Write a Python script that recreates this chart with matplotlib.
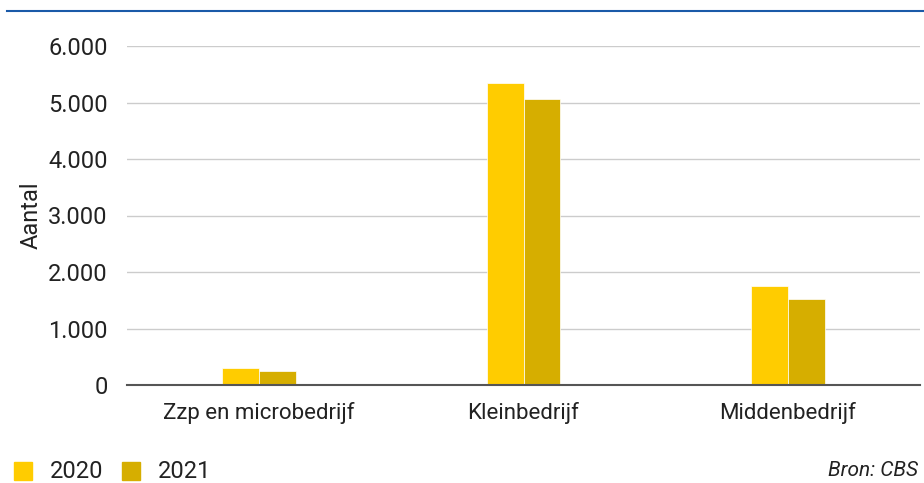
import numpy as np
import matplotlib.pyplot as plt
from matplotlib.lines import Line2D
from matplotlib.patches import Rectangle

plt.rcParams['font.family'] = ['Roboto', 'DejaVu Sans']

categories = ["Zzp en microbedrijf", "Kleinbedrijf", "Middenbedrijf"]
years = ["2020", "2021"]
values_2020 = [300, 5350, 1755]
values_2021 = [250, 5060, 1525]
colors = ["#FFCC00", "#D6AE00"]
yticks = [0, 1000, 2000, 3000, 4000, 5000, 6000]
ytick_labels = ["0", "1.000", "2.000", "3.000", "4.000", "5.000", "6.000"]

fig = plt.figure(figsize=(9.24, 4.83), dpi=100)
ax = fig.add_axes([127 / 924, 1 - 385 / 483, 793 / 924, (385 - 46) / 483])

x = np.arange(len(categories))
w = 0.139
ax.bar(x - w / 2, values_2020, w, color=colors[0], edgecolor="white", linewidth=0.5, zorder=3)
ax.bar(x + w / 2, values_2021, w, color=colors[1], edgecolor="white", linewidth=0.5, zorder=3)

ax.set_xlim(-0.5, 2.5)
ax.set_ylim(0, 6000)
ax.set_yticks(yticks)
ax.set_yticklabels(ytick_labels)
ax.set_xticks(x)
ax.set_xticklabels(categories)
ax.grid(axis="y", color="#cccccc", linewidth=1, zorder=0)
for s in ["top", "right", "left"]:
    ax.spines[s].set_visible(False)
ax.spines["bottom"].set_color("#555555")
ax.spines["bottom"].set_linewidth(1.5)
ax.spines["bottom"].set_zorder(4)
ax.tick_params(axis="both", length=0, colors="#222222")
ax.tick_params(axis="y", pad=14, labelsize=17)
ax.tick_params(axis="x", pad=12, labelsize=16)
ax.set_ylabel("Aantal", fontsize=17, color="#222222", labelpad=4)

# top blue rule
fig.add_artist(Line2D([7 / 924, 1], [1 - 11 / 483] * 2, color="#1a5aa8", linewidth=1.5))

# legend
for i, (yr, c) in enumerate(zip(years, colors)):
    x0 = (14 + i * 108) / 924
    fig.add_artist(Rectangle((x0, 1 - 480 / 483), 18 / 924, 18 / 483, color=c, transform=fig.transFigure))
    fig.text((50 + i * 108) / 924, 1 - 471 / 483, yr, fontsize=17, va="center", color="#222222")

fig.text(918 / 924, 1 - 471 / 483, "Bron: CBS", fontsize=15, style="italic", ha="right", va="center", color="#222222")

fig.savefig("out.png", dpi=100)
